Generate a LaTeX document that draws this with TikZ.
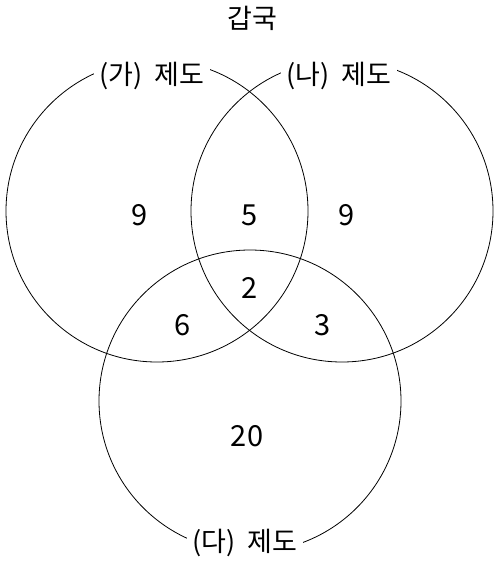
\documentclass[tikz,border=0pt]{standalone}
\usepackage{fontspec}
\newfontfamily\kor{Noto Sans CJK KR}

\begin{document}
\begin{tikzpicture}[x=1pt,y=-1pt,line cap=round,every node/.style={font=\kor\fontsize{27}{30}\selectfont}]
\tikzset{set/.style={line width=0.8pt},lab/.style={fill=white,inner sep=6pt},num/.style={font=\kor\fontsize{29}{30}\selectfont}}
\useasboundingbox (0,0) rectangle (493,562);
\coordinate (A) at (157,211); \coordinate (B) at (342,211); \coordinate (C) at (250,401);
\foreach \c in {A,B,C} \draw[set] (\c) circle[radius=151];
\node (title) at (252,18) {갑국};
\node[lab] (labA) at (152,76) {(가)\hspace{12pt}제도};
\node[lab] (labB) at (339,76) {(나)\hspace{12pt}제도};
\node[lab] (labC) at (245,543) {(다)\hspace{12pt}제도};
\foreach \n/\x/\y/\t in {onlyA/140/215/9,AB/250/215/5,onlyB/347/215/9,ABC/250/288/2,AC/183/325/6,BC/323/325/3,onlyC/247/436/20}
  \node[num] (\n) at (\x,\y) {\t};
\end{tikzpicture}
\end{document}
